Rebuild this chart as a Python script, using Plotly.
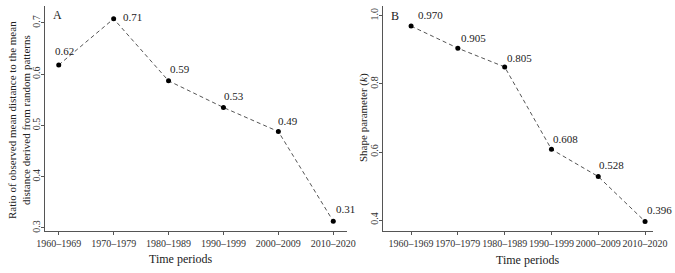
import plotly.graph_objects as go

periods = ["1960–1969", "1970–1979", "1980–1989", "1990–1999", "2000–2009", "2010–2020"]
ratio_values = [0.618, 0.708, 0.587, 0.535, 0.488, 0.313]
ratio_labels = ["0.62", "0.71", "0.59", "0.53", "0.49", "0.31"]
shape_values = [0.970, 0.905, 0.850, 0.608, 0.528, 0.396]
shape_labels = ["0.970", "0.905", "0.805", "0.608", "0.528", "0.396"]

FONT = "Liberation Serif"
W, H = 675, 273
xpos = list(range(1, len(periods) + 1))

# label offsets (style): (xshift, yshift) in px
offs_a = [(-6, 14), (7, 2), (-1, 12), (-1, 11), (-2, 11), (1, 12)]
offs_b = [(5, 11), (1, 10), (0, 9), (0, 10), (-1, 12), (0, 11)]

fig = go.Figure()
line_style = dict(color="#555555", width=1, dash="4px,3px")
marker_style = dict(color="black", size=5)
fig.add_trace(go.Scatter(x=xpos, y=ratio_values, mode="lines+markers", line=line_style,
                         marker=marker_style, xaxis="x", yaxis="y", showlegend=False,
                         hoverinfo="skip"))
fig.add_trace(go.Scatter(x=xpos, y=shape_values, mode="lines+markers", line=line_style,
                         marker=marker_style, xaxis="x2", yaxis="y2", showlegend=False,
                         hoverinfo="skip"))

ann = []
for x, v, t, (dx, dy) in zip(xpos, ratio_values, ratio_labels, offs_a):
    ann.append(dict(x=x, y=v, xref="x", yref="y", text=t, showarrow=False, xanchor="left",
                    yanchor="middle", xshift=dx, yshift=dy, font=dict(size=11, color="#222")))
for x, v, t, (dx, dy) in zip(xpos, shape_values, shape_labels, offs_b):
    ann.append(dict(x=x, y=v, xref="x2", yref="y2", text=t, showarrow=False, xanchor="left",
                    yanchor="middle", xshift=dx, yshift=dy, font=dict(size=11, color="#222")))

# panel letters
ann.append(dict(x=58 / W, y=1 - 15 / H, xref="paper", yref="paper", text="A", showarrow=False,
                font=dict(size=12, color="#222"), xanchor="center", yanchor="middle"))
ann.append(dict(x=395 / W, y=1 - 16 / H, xref="paper", yref="paper", text="B", showarrow=False,
                font=dict(size=12, color="#222"), xanchor="center", yanchor="middle"))
# axis titles
ann.append(dict(x=19 / W, y=1 - 120 / H, xref="paper", yref="paper",
                text="Ratio of observed mean distance to the mean<br>distance derived from random patterns",
                textangle=-90, showarrow=False, font=dict(size=11, color="#222"),
                xanchor="center", yanchor="middle"))
ann.append(dict(x=363 / W, y=1 - 118 / H, xref="paper", yref="paper",
                text="Shape parameter (<i>k</i>)", textangle=-90, showarrow=False,
                font=dict(size=11, color="#222"), xanchor="center", yanchor="middle"))
ann.append(dict(x=181 / W, y=1 - 259 / H, xref="paper", yref="paper", text="Time periods",
                showarrow=False, font=dict(size=12, color="#222"), xanchor="center", yanchor="middle"))
ann.append(dict(x=528 / W, y=1 - 260 / H, xref="paper", yref="paper", text="Time periods",
                showarrow=False, font=dict(size=12, color="#222"), xanchor="center", yanchor="middle"))

axis_common = dict(showline=True, linecolor="#555555", linewidth=1, ticks="outside",
                   ticklen=3, tickcolor="#555555", showgrid=False, zeroline=False,
                   automargin=False, tickfont=dict(size=10, color="#333"))

ydom = [42 / H, 1 - 6 / H]
fig.update_layout(
    template="none",
    width=W, height=H, margin=dict(l=0, r=0, t=0, b=0, pad=0),
    paper_bgcolor="white", plot_bgcolor="white",
    font=dict(family=FONT, color="#222"),
    hovermode=False,
    xaxis=dict(domain=[45 / W, 347 / W], range=[0.75, 6.25], tickvals=xpos, ticktext=periods,
               tickangle=0, anchor="y", **axis_common),
    yaxis=dict(domain=ydom, range=[0.294, 0.733], tickvals=[0.3, 0.4, 0.5, 0.6, 0.7],
               ticktext=["0.3", "0.4", "0.5", "0.6", "0.7"], tickangle=-90, anchor="x",
               ticklabelstandoff=-3, **axis_common),
    xaxis2=dict(domain=[383 / W, 653 / W], range=[0.4, 6.17], tickvals=xpos, ticktext=periods,
                tickangle=0, anchor="y2", **axis_common),
    yaxis2=dict(domain=ydom, range=[0.368, 1.029], tickvals=[0.4, 0.6, 0.8, 1.0],
                ticktext=["0.4", "0.6", "0.8", "1.0"], tickangle=-90, anchor="x2",
                ticklabelstandoff=-3, **axis_common),
    annotations=ann,
)

fig.write_html("out.html", config={"displayModeBar": False},
               post_script="document.body.style.margin='0';document.body.style.overflow='hidden';")
